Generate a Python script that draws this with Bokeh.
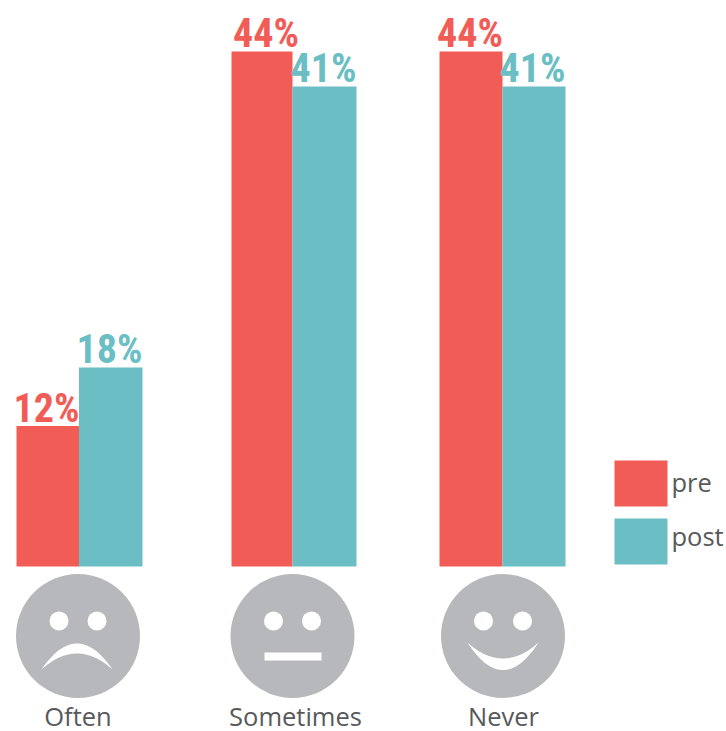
import numpy as np
from bokeh.plotting import figure
from bokeh.models import Range1d
from bokeh.core.properties import value
from bokeh.embed import file_html
from bokeh.resources import INLINE

categories = ["Often", "Sometimes", "Never"]
pre_values = [12, 44, 44]
post_values = [17, 41, 41]
pre_labels = ["12%", "44%", "44%"]
post_labels = ["18%", "41%", "41%"]
series_names = ["pre", "post"]

RED = "#F25C57"
TEAL = "#6BBEC4"
GRAY = "#B7B8BC"
TEXT = "#58595B"

W, H = 726, 731
BASE_Y, PX_PER_PCT = 566.0, 11.705

# layout, in reference pixels
pre_left = [16, 231, 439]
mid = [78.5, 292, 502]
post_right = [142, 356, 565]
face_x = [77.5, 292, 502.5]
face_y, face_r = 635.5, 62
eye_dx = [19, 19, 19.5]
eye_y, eye_r = 620.5, 9.5
cat_x = [77.5, 295, 503]
pre_label_x = [46, 265.5, 469.5]
post_label_x = [109, 323, 532]

p = figure(width=W, height=H, output_backend="svg", toolbar_location=None,
           x_range=Range1d(0, W),
           y_range=Range1d((H - BASE_Y) * -1 / PX_PER_PCT, BASE_Y / PX_PER_PCT),
           min_border=0, min_border_left=0, min_border_right=0,
           min_border_top=0, min_border_bottom=0,
           background_fill_color="white", border_fill_color="white")
p.extra_y_ranges["px"] = Range1d(H, 0)
p.axis.visible = False
p.grid.visible = False
p.outline_line_color = None

zeros = [0, 0, 0]
p.quad(left=pre_left, right=mid, bottom=zeros, top=pre_values, fill_color=RED, line_color=None)
p.quad(left=mid, right=post_right, bottom=zeros, top=post_values, fill_color=TEAL, line_color=None)

lab_font = value("Roboto Condensed, Roboto")
p.text(x=pre_label_x, y=pre_values, text=pre_labels, text_color=RED, text_font=lab_font,
       text_font_style="bold", text_font_size="40px", text_align="center",
       text_baseline="alphabetic", y_offset=-18)
p.text(x=post_label_x, y=post_values, text=post_labels, text_color=TEAL, text_font=lab_font,
       text_font_style="bold", text_font_size="40px", text_align="center",
       text_baseline="alphabetic", y_offset=-18)

# faces
p.circle(x=face_x, y=[face_y] * 3, radius=face_r, fill_color=GRAY, line_color=None, y_range_name="px")
eyes_x = [x + s * d for x, d in zip(face_x, eye_dx) for s in (-1, 1)]
p.circle(x=eyes_x, y=[eye_y] * 6, radius=eye_r, fill_color="white", line_color=None, y_range_name="px")


def crescent(cx, half, tip_y, outer_y, inner_y):
    t = np.linspace(-1, 1, 41)
    xs = cx + half * t
    outer = outer_y + (tip_y - outer_y) * t ** 2
    inner = inner_y + (tip_y - inner_y) * t ** 2
    return list(xs) + list(xs[::-1]), list(outer) + list(inner[::-1])


fx, fy = crescent(76.5, 35.5, 669, 643, 653)
p.patch(fx, fy, fill_color="white", line_color=None, y_range_name="px")
sx, sy = crescent(502.5, 35.5, 642, 669.5, 658)
p.patch(sx, sy, fill_color="white", line_color=None, y_range_name="px")
p.quad(left=[264], right=[321], top=[652], bottom=[660], fill_color="white", line_color=None, y_range_name="px")

# category labels
p.text(x=cat_x, y=[715] * 3, text=categories, text_color=TEXT, text_font=value("Open Sans"),
       text_font_size="25.5px", text_align="center", text_baseline="alphabetic", y_range_name="px")

# legend
p.quad(left=[614, 614], right=[667, 667], top=[460, 518], bottom=[506, 564],
       fill_color=[RED, TEAL], line_color=None, y_range_name="px")
p.text(x=[671, 671], y=[481, 535], text=series_names, text_color=TEXT, text_font=value("Open Sans"),
       text_font_size="25.5px", text_align="left", text_baseline="alphabetic", y_range_name="px")

open("out.html", "w").write(file_html(p, INLINE))
